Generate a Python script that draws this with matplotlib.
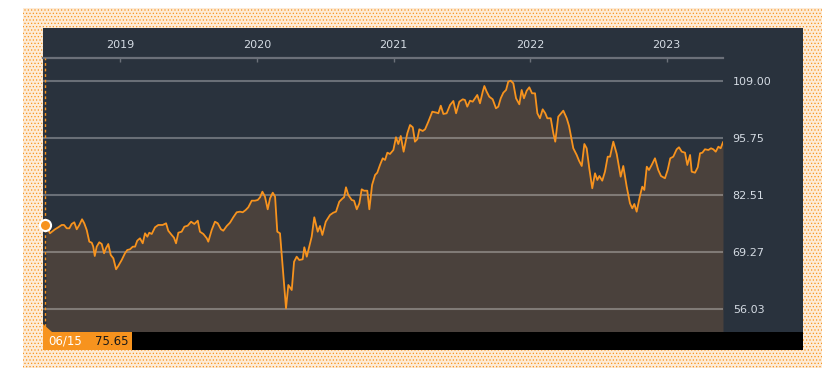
import numpy as np
import matplotlib
matplotlib.use("Agg")
import matplotlib.pyplot as plt
from matplotlib.patches import Rectangle, Polygon

# data: decimal year, index level
years = [2018.456, 2018.485, 2018.522, 2018.546, 2018.571, 2018.588, 2018.608, 2018.627,
         2018.644, 2018.663, 2018.681, 2018.700, 2018.720, 2018.736, 2018.754, 2018.773,
         2018.791, 2018.802, 2018.813, 2018.827, 2018.846, 2018.864, 2018.881, 2018.895,
         2018.912, 2018.930, 2018.949, 2018.969, 2018.985, 2019.010, 2019.034, 2019.051,
         2019.071, 2019.091, 2019.108, 2019.124, 2019.144, 2019.164, 2019.181, 2019.198,
         2019.212, 2019.230, 2019.254, 2019.278, 2019.310, 2019.335, 2019.351, 2019.376,
         2019.393, 2019.408, 2019.425, 2019.449, 2019.469, 2019.493, 2019.518, 2019.542,
         2019.567, 2019.583, 2019.608, 2019.633, 2019.644, 2019.669, 2019.693, 2019.713,
         2019.737, 2019.754, 2019.779, 2019.803, 2019.827, 2019.852, 2019.876, 2019.896,
         2019.918, 2019.937, 2019.962, 2019.986, 2020.006, 2020.023, 2020.040, 2020.059,
         2020.079, 2020.096, 2020.116, 2020.133, 2020.149, 2020.169, 2020.213, 2020.230,
         2020.255, 2020.272, 2020.291, 2020.310, 2020.335, 2020.347, 2020.365, 2020.401,
         2020.420, 2020.445, 2020.462, 2020.479, 2020.504, 2020.535, 2020.559, 2020.579,
         2020.603, 2020.628, 2020.638, 2020.652, 2020.669, 2020.694, 2020.711, 2020.731,
         2020.750, 2020.767, 2020.784, 2020.808, 2020.823, 2020.843, 2020.865, 2020.881,
         2020.901, 2020.921, 2020.938, 2020.955, 2020.974, 2020.999, 2021.018, 2021.035,
         2021.053, 2021.074, 2021.101, 2021.121, 2021.141, 2021.157, 2021.174, 2021.189,
         2021.214, 2021.231, 2021.255, 2021.284, 2021.316, 2021.328, 2021.346, 2021.365,
         2021.389, 2021.414, 2021.438, 2021.458, 2021.482, 2021.507, 2021.523, 2021.540,
         2021.560, 2021.580, 2021.597, 2021.613, 2021.633, 2021.653, 2021.665, 2021.682,
         2021.701, 2021.726, 2021.750, 2021.767, 2021.785, 2021.804, 2021.824, 2021.840,
         2021.858, 2021.877, 2021.897, 2021.921, 2021.938, 2021.955, 2021.975, 2021.994,
         2022.014, 2022.036, 2022.053, 2022.072, 2022.092, 2022.111, 2022.126, 2022.151,
         2022.170, 2022.184, 2022.206, 2022.243, 2022.268, 2022.285, 2022.316, 2022.341,
         2022.358, 2022.378, 2022.397, 2022.414, 2022.433, 2022.455, 2022.475, 2022.492,
         2022.507, 2022.528, 2022.548, 2022.568, 2022.585, 2022.609, 2022.634, 2022.663,
         2022.682, 2022.707, 2022.731, 2022.748, 2022.763, 2022.780, 2022.804, 2022.821,
         2022.836, 2022.854, 2022.870, 2022.890, 2022.914, 2022.938, 2022.958, 2022.987,
         2023.007, 2023.026, 2023.048, 2023.073, 2023.090, 2023.110, 2023.134, 2023.151,
         2023.171, 2023.183, 2023.207, 2023.227, 2023.244, 2023.261, 2023.280, 2023.305,
         2023.324, 2023.341, 2023.359, 2023.378, 2023.395, 2023.412]
values = [75.65, 73.64, 74.57, 75.03, 75.57, 75.57, 74.80, 74.80,
          75.80, 76.19, 74.57, 75.57, 76.89, 75.96, 74.41, 71.70,
          71.46, 70.54, 68.38, 70.54, 71.56, 71.16, 69.01, 70.17,
          71.16, 68.61, 67.85, 65.30, 66.07, 67.45, 69.01, 69.77,
          69.93, 70.54, 70.54, 71.93, 72.48, 71.32, 73.64, 72.85,
          73.78, 73.48, 75.03, 75.57, 75.57, 75.96, 74.24, 73.25,
          72.62, 71.32, 73.78, 74.01, 75.17, 75.40, 76.33, 75.80,
          76.56, 74.01, 73.48, 72.48, 71.70, 74.41, 76.33, 75.96,
          74.57, 74.24, 75.33, 76.10, 77.35, 78.51, 78.65, 78.51,
          79.04, 79.67, 81.20, 81.20, 81.36, 81.98, 83.28, 82.12,
          79.20, 81.75, 83.05, 82.12, 74.01, 73.64, 56.26, 61.66,
          60.50, 67.06, 68.22, 67.45, 67.62, 70.40, 68.22, 72.85,
          77.35, 74.01, 75.33, 73.25, 76.33, 77.88, 78.41, 78.65,
          80.96, 81.75, 81.98, 84.30, 82.52, 81.36, 81.20, 79.20,
          80.59, 83.84, 83.51, 83.51, 79.20, 84.83, 87.15, 87.68,
          89.47, 91.02, 90.63, 92.32, 92.02, 92.94, 95.89, 94.33,
          96.19, 92.55, 96.81, 98.74, 98.20, 94.87, 95.42, 97.74,
          97.35, 97.74, 99.50, 101.82, 101.59, 101.45, 103.21, 101.29,
          101.45, 103.37, 104.30, 101.45, 104.14, 104.69, 104.53, 102.98,
          104.37, 104.14, 104.92, 105.69, 103.76, 106.45, 107.77, 106.45,
          105.29, 104.69, 102.60, 102.98, 104.92, 106.22, 106.85, 108.77,
          109.00, 108.40, 104.92, 103.53, 106.85, 104.92, 106.68, 107.47,
          106.08, 106.08, 101.45, 100.29, 102.37, 101.45, 100.29, 100.29,
          96.81, 94.87, 100.66, 102.05, 100.29, 98.50, 93.34, 91.78,
          90.46, 89.24, 94.33, 93.34, 88.70, 84.07, 87.54, 85.99,
          86.92, 85.83, 87.92, 91.39, 91.39, 94.87, 92.02, 86.76,
          89.24, 84.44, 80.59, 79.43, 80.43, 78.65, 82.28, 84.44,
          83.68, 89.07, 88.31, 89.47, 91.02, 88.31, 86.92, 86.39,
          88.31, 91.02, 91.39, 93.11, 93.57, 92.55, 92.32, 89.47,
          91.79, 87.92, 87.68, 88.93, 92.18, 92.32, 93.11, 92.94,
          93.34, 93.11, 92.55, 93.71, 93.34, 94.73]

year_ticks = [2019, 2020, 2021, 2022, 2023]
level_ticks = [56.03, 69.27, 82.51, 95.75, 109.00]
start_label = "06/15"
start_value = "75.65"

# colours
orange = '#f7931e'
panel = '#29323d'
fillc = '#4a413c'
txtc = '#d4dbe3'

W, H = 828, 381
plt.rcParams['hatch.linewidth'] = 0.5
fig = plt.figure(figsize=(W/100, H/100), dpi=100)

def px_rect(x0, y0, x1, y1, **kw):
    r = Rectangle((x0/W, 1-y1/H), (x1-x0)/W, (y1-y0)/H, transform=fig.transFigure, **kw)
    fig.patches.append(r)
    return r

# dotted orange frame: pale base with a fine dot hatch
px_rect(23, 8, 822, 368, facecolor='#fdebd6', edgecolor=orange, hatch='.....',
        lw=0, zorder=-3)

px_rect(43, 28, 803, 350, facecolor=panel, lw=0, zorder=-2)

ax = fig.add_axes([43/W, 1-332/H, (723-43)/W, (332-58)/H])
ax.set_facecolor(panel)
ymin, ymax = 50.77, 114.26
ax.set_xlim(2018.434, 2023.412)
ax.set_ylim(ymin, ymax)

ax.fill_between(years, values, ymin, color=fillc, lw=0, zorder=1)
ax.plot(years, values, color=orange, lw=1.3, zorder=3)

ax.axvline(years[0] - 0.007, color=orange, lw=1.0, ls=(0, (2, 2)), zorder=4)
ax.plot([years[0] - 0.007], [values[0]], 'o', ms=8, mfc=orange, mec='white',
        mew=1.5, clip_on=False, zorder=6)

for s in ['left', 'right', 'bottom']:
    ax.spines[s].set_visible(False)
ax.spines['top'].set_color('#6b7079')
ax.spines['top'].set_linewidth(1.6)

ax.xaxis.tick_top()
ax.set_xticks(year_ticks)
ax.set_xticklabels([str(y) for y in year_ticks])
ax.tick_params(axis='x', direction='in', length=3, width=1, color='#6b7079',
               labelcolor=txtc, labelsize=8, pad=6)

ax.yaxis.tick_right()
ax.set_yticks(level_ticks)
ax.set_yticklabels(['%.2f' % v for v in level_ticks])
ax.tick_params(axis='y', length=0, labelcolor=txtc, labelsize=8, pad=7)
ax.yaxis.grid(True, color='white', alpha=0.3, lw=1.5)
ax.xaxis.grid(False)

# bottom bar with start label
px_rect(43, 332, 803, 350, facecolor='black', lw=0, zorder=2)
px_rect(43, 332, 132, 350, facecolor=orange, lw=0, zorder=3)
tri = Polygon([(43/W, 1-324/H), (43/W, 1-332/H), (52/W, 1-332/H)],
              closed=True, transform=fig.transFigure, facecolor=orange, lw=0, zorder=3)
fig.patches.append(tri)
fig.text(48/W, 1-341.5/H, start_label, color='white', fontsize=8.5, va='center', ha='left', zorder=5)
fig.text(95/W, 1-341.5/H, start_value, color='#1a1a1a', fontsize=8.5, va='center', ha='left', zorder=5)

fig.savefig('out.png', dpi=100, facecolor='white')
